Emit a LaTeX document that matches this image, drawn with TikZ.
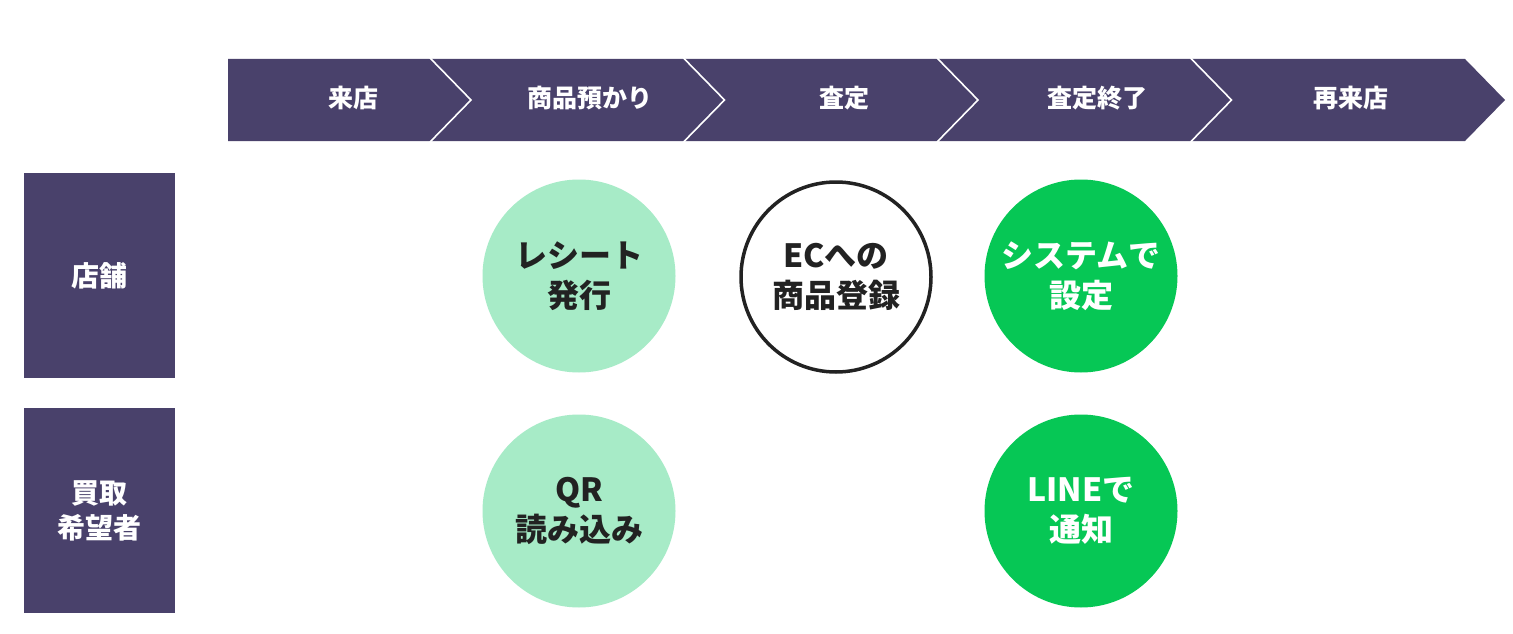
\documentclass[tikz,border=0pt]{standalone}
\usepackage{fontspec}
\setmainfont{Noto Sans CJK JP}[BoldFont={* Black}]
\definecolor{hdr}{HTML}{49416B}
\definecolor{lgreen}{HTML}{A7EBC7}
\definecolor{lgr}{HTML}{06C755}
\definecolor{ink}{HTML}{222222}
\tikzset{
  hdrtext/.style={text=white,font=\bfseries\fontsize{25}{30}\selectfont,inner sep=0pt},
  sidebox/.style={fill=hdr,minimum width=151pt,minimum height=205pt,inner sep=0pt,text=white,align=center,font=\bfseries\fontsize{28}{35}\selectfont},
  circ/.style={circle,minimum size=193pt,inner sep=0pt,align=center,font=\bfseries\fontsize{32}{40}\selectfont},
  softcirc/.style={circ,fill=lgreen,text=ink},
  linecirc/.style={circ,draw=ink,line width=3.5pt,fill=white,text=ink,minimum size=190pt},
  greencirc/.style={circ,fill=lgr,text=white},
  chev/.style={draw=white,line width=1.6pt}
}
\begin{document}
\begin{tikzpicture}[x=1pt,y=-1pt]
\useasboundingbox[fill=white] (0,0) rectangle (1513,634);
% header arrow band
\fill[hdr] (228,59) -- (1465,59) -- (1505,100) -- (1465,141) -- (228,141) -- cycle;
\foreach \k in {0,1,2,3}{
  \draw[chev] ({430+253.5*\k},58) -- ({471+253.5*\k},100) -- ({430+253.5*\k},142);
}
\node[hdrtext] (h1) at (353,98) {来店};
\node[hdrtext] (h2) at (590,98) {商品預かり};
\node[hdrtext] (h3) at (844,98) {査定};
\node[hdrtext] (h4) at (1097,98) {査定終了};
\node[hdrtext] (h5) at (1351,98) {再来店};
% side labels
\node[sidebox] (store) at (99.5,275.5) {店舗};
\node[sidebox] (buyer) at (99.5,510.5) {買取\\希望者};
% circles
\node[softcirc] (receipt) at (579,276) {レシート\\発行};
\node[linecirc] (ec) at (836,277) {ECへの\\商品登録};
\node[greencirc] (sys) at (1081,276) {システムで\\設定};
\node[softcirc] (qr) at (579,511) {QR\\読み込み};
\node[greencirc] (line) at (1081,511) {LINEで\\通知};
\end{tikzpicture}
\end{document}
